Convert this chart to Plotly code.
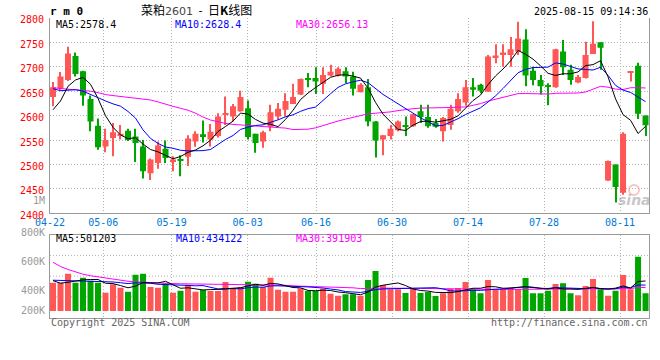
import plotly.graph_objects as go
import pandas as pd

# ---------------- data ----------------
dates = ["04-22","04-23","04-24","04-25","04-28","04-29","04-30",
         "05-06","05-07","05-08","05-09","05-12","05-13","05-14","05-15","05-16",
         "05-19","05-20","05-21","05-22","05-23","05-26","05-27","05-28","05-29","05-30",
         "06-03","06-04","06-05","06-06","06-09","06-10","06-11","06-12","06-13",
         "06-16","06-17","06-18","06-19","06-20","06-23","06-24","06-25","06-26","06-27",
         "06-30","07-01","07-02","07-03","07-04","07-07","07-08","07-09","07-10","07-11",
         "07-14","07-15","07-16","07-17","07-18","07-21","07-22","07-23","07-24","07-25",
         "07-28","07-29","07-30","07-31","08-01","08-04","08-05","08-06","08-07","08-08",
         "08-11","08-12","08-13","08-14","08-15"]

opens  = [2638,2655,2673,2722,2691,2634,2579,2537,2554,2560,
          2569,2557,2537,2482,2503,2532,2505,2511,2516,2547,
          2562,2551,2558,2602,2598,2609,2615,2563,2547,2577,
          2598,2612,2624,2643,2677,2677,2665,2682,2682,2691,
          2680,2648,2658,2588,2551,2558,2570,2581,2578,2609,
          2597,2585,2568,2581,2609,2627,2658,2663,2649,2719,
          2724,2724,2731,2756,2692,2673,2662,2658,2731,2694,
          2668,2677,2726,2750,2467,2500,2442,2688,2702,2600]
highs  = [2669,2689,2741,2729,2692,2641,2594,2573,2585,2581,
          2573,2573,2550,2512,2547,2549,2517,2519,2560,2568,
          2590,2583,2605,2639,2624,2651,2631,2563,2569,2622,
          2626,2646,2665,2676,2687,2699,2699,2704,2699,2699,
          2690,2666,2675,2589,2560,2581,2590,2598,2604,2622,
          2622,2593,2597,2622,2646,2673,2677,2665,2724,2746,
          2746,2761,2792,2777,2700,2683,2666,2737,2755,2704,
          2683,2751,2793,2750,2508,2500,2566,2689,2708,2600]
lows   = [2619,2651,2671,2680,2620,2568,2530,2525,2517,2551,
          2548,2505,2471,2468,2491,2503,2486,2476,2497,2536,
          2545,2537,2555,2581,2588,2608,2551,2524,2534,2568,
          2592,2598,2624,2642,2658,2644,2644,2680,2680,2666,
          2641,2648,2578,2514,2519,2551,2568,2558,2577,2585,
          2575,2575,2547,2571,2606,2620,2639,2646,2649,2707,
          2700,2700,2724,2660,2662,2643,2621,2657,2683,2663,
          2666,2676,2726,2694,2466,2422,2438,2670,2593,2558]
closes = [2658,2680,2727,2685,2641,2588,2535,2550,2566,2563,
          2550,2544,2486,2510,2539,2513,2510,2509,2553,2563,
          2556,2567,2598,2604,2619,2638,2556,2544,2566,2607,
          2614,2630,2638,2675,2674,2670,2683,2690,2696,2680,
          2655,2663,2588,2549,2560,2573,2588,2578,2603,2597,
          2578,2577,2595,2614,2634,2658,2653,2651,2721,2723,
          2729,2736,2758,2682,2673,2660,2660,2736,2699,2673,
          2679,2724,2747,2739,2507,2454,2563,2689,2604,2580]
volumes = [474,474,624,474,557,507,474,306,446,390,
           323,608,624,401,390,462,306,339,440,323,
           351,334,334,485,390,401,490,457,401,557,
           356,323,323,378,334,334,373,289,255,278,
           278,255,518,669,434,362,362,300,384,300,
           317,250,295,373,384,485,362,295,518,362,
           362,384,362,552,295,295,339,451,462,295,
           261,418,535,362,255,339,602,362,909,295]  # thousands of lots

# moving-average values visible before enough bars exist
ma5_head  = [2612,2630,2660,2673]
ma10_head = [2655,2651,2652,2653,2650,2643,2636,2630,2624]
ma30_head = [2657,2655,2654,2653,2652,2650,2647,2643,2641,2639,
             2638,2636,2634,2632,2628,2623,2619,2615,2611,2605,
             2597,2591,2587,2584,2582,2581,2580,2579,2578]
vma5_head  = [507,465,480,500]
vma10_head = [515,512,510,510,508,505,500,495,485]
vma30_head = [815,745,695,650,615,590,570,550,530,512,
              497,487,479,472,467,462,458,455,452,450,
              448,446,444,442,441,440,439,438,438]

tick_labels = ["04-22","05-06","05-19","06-03","06-16","06-30","07-14","07-28","08-11"]
price_ticks = [2400,2450,2500,2550,2600,2650,2700,2750,2800]

ma_texts = ["MA5:2578.4", "MA10:2628.4", "MA30:2656.13"]
vma_texts = ["MA5:501203", "MA10:434122", "MA30:391903"]
vol_labels = ["800K", "600K", "400K", "200K"]

# ---------------- derived ----------------
W, H = 660, 360
n = len(dates)
idx = list(range(n))
vol = [v * 1000 for v in volumes]


def ma(series, k, head):
    s = pd.Series(series, dtype=float).rolling(k).mean().tolist()
    for i, h in enumerate(head):
        s[i] = h
    return s


ma5, ma10, ma30 = ma(closes, 5, ma5_head), ma(closes, 10, ma10_head), ma(closes, 30, ma30_head)
vma5 = ma(vol, 5, [v * 1000 for v in vma5_head])
vma10 = ma(vol, 10, [v * 1000 for v in vma10_head])
vma30 = ma(vol, 30, [v * 1000 for v in vma30_head])

RED, GREEN = "#ff5656", "#00a500"
colors = [RED if c >= o else GREEN for o, c in zip(opens, closes)]
body_base = [min(o, c) for o, c in zip(opens, closes)]
body_h = [max(abs(c - o), 2) for o, c in zip(opens, closes)]
wick_h = [h - l for h, l in zip(highs, lows)]

# Sina's date grid runs on a 7.6 px pitch while bars sit on a 7.5 px pitch
tick_pos = [(dates.index(t) * 7.6 - 3) / 7.5 for t in tick_labels]

MONO = "DejaVu Sans Mono"
GRIDC = "#b4b4b4"
LINEC = "#9a9a9a"
DOT = "1px,2px"

def px(x):
    return x / W

def py(y):
    return 1 - y / H

fig = go.Figure()
# candles
fig.add_trace(go.Bar(x=idx, y=wick_h, base=lows, width=0.14, marker=dict(color=colors, line=dict(width=0)),
                     xaxis="x", yaxis="y", hoverinfo="skip"))
fig.add_trace(go.Bar(x=idx, y=body_h, base=body_base, width=0.8, marker=dict(color=colors, line=dict(width=0)),
                     xaxis="x", yaxis="y", hoverinfo="skip"))
for s, c in [(ma30, "#ff00ff"), (ma10, "#0000ff"), (ma5, "#000000")]:
    fig.add_trace(go.Scatter(x=idx, y=s, mode="lines", line=dict(color=c, width=1), xaxis="x", yaxis="y"))
# volume
fig.add_trace(go.Bar(x=idx, y=vol, width=0.8, marker=dict(color=colors, line=dict(width=0)),
                     xaxis="x2", yaxis="y2", hoverinfo="skip"))
for s, c in [(vma30, "#ff00ff"), (vma10, "#0000ff"), (vma5, "#000000")]:
    fig.add_trace(go.Scatter(x=idx, y=s, mode="lines", line=dict(color=c, width=1), xaxis="x2", yaxis="y2"))

xdom = [px(50), px(649.3)]
xr = [-0.4, 79.5]
fig.update_layout(
    width=W, height=H, margin=dict(l=0, r=0, t=0, b=0, pad=0, autoexpand=False),
    paper_bgcolor="white", plot_bgcolor="white",
    showlegend=False, barmode="overlay",
    xaxis=dict(domain=xdom, range=xr, anchor="y", tickvals=tick_pos, ticktext=tick_labels,
               tickfont=dict(family=MONO, size=10, color="#0078d7"), ticks="",
               ticklabelstandoff=0, automargin=False,
               showgrid=True, gridcolor=GRIDC, griddash=DOT, gridwidth=1,
               showline=True, linecolor=LINEC, linewidth=1, zeroline=False),
    yaxis=dict(domain=[py(213.3), py(17.9)], range=[2400, 2800], anchor="x",
               tickvals=price_ticks, ticktext=[str(p) for p in price_ticks],
               tickfont=dict(family=MONO, size=10, color="#ff0000"), ticks="",
               ticklabelstandoff=3, ticklabelshift=2, automargin=False,
               showgrid=True, gridcolor=GRIDC, griddash=DOT, gridwidth=1,
               showline=True, mirror=True, linecolor=LINEC, linewidth=1, zeroline=False),
    xaxis2=dict(domain=xdom, range=xr, anchor="y2", tickvals=tick_pos, showticklabels=False, ticks="",
                automargin=False,
                showgrid=True, gridcolor=GRIDC, griddash=DOT, gridwidth=1,
                showline=True, mirror=True, linecolor=LINEC, linewidth=1, zeroline=False),
    yaxis2=dict(domain=[py(317.7), py(234.7)], range=[-114000, 1278000], anchor="x2",
                showticklabels=False, ticks="", showgrid=False, automargin=False,
                showline=True, mirror=True, linecolor=LINEC, linewidth=1, zeroline=False),
)

shapes = []
for f in (0.25, 0.5, 0.75):
    shapes.append(dict(type="line", xref="x2 domain", yref="y2 domain", x0=0, x1=1, y0=f, y1=f,
                       line=dict(color=GRIDC, width=1, dash=DOT), layer="below"))
# sina watermark eye
shapes.append(dict(type="circle", xref="paper", yref="paper",
                   x0=px(629), x1=px(639), y0=py(195), y1=py(185),
                   line=dict(color="rgba(240,150,150,0.55)", width=2)))
fig.update_layout(shapes=shapes)

ann = []
def text(x, y, s, anchor="left", color="#000", size=10, family=MONO):
    ann.append(dict(x=px(x), y=py(y), xref="paper", yref="paper", text=s, showarrow=False,
                    xanchor=anchor, yanchor="middle", borderpad=0,
                    font=dict(family=family, size=size, color=color)))

text(49, 11.5, "<b>r m 0</b>", size=11)
text(140, 9.5, "菜粕<span style='font-family:DejaVu Sans;font-size:11px;color:#444'>2601</span>"
     "&nbsp;&nbsp;-&nbsp;&nbsp;日<b>K</b>线图",
     size=12, family="Noto Sans CJK SC")
text(648.5, 11.5, "2025-08-15 09:14:36", anchor="right")
for x, s, c in zip([54.5, 174, 295], ma_texts, ["#000000", "#0000ff", "#ff00ff"]):
    text(x, 24.5, s, color=c)
for x, s, c in zip([54.5, 174.5, 295], vma_texts, ["#000000", "#0000ff", "#ff00ff"]):
    text(x, 238.3, s, color=c)
text(46, 200.7, "1M", anchor="right", color="#999999")
for y, s in zip([232.5, 261, 290.7, 310.7], vol_labels):
    text(46, y, s, anchor="right", color="#999999")
text(50, 322.8, "Copyright 2025 SINA.COM", color="#666666")
text(648.5, 322.8, "http://finance.sina.com.cn", anchor="right", color="#666666")
text(634, 200, "<b><i>sina</i></b>", anchor="center", color="rgba(150,150,150,0.55)", size=14,
     family="DejaVu Sans")
fig.update_layout(annotations=ann)

fig.write_html("out.html", config={"displayModeBar": False},
               post_script="document.documentElement.style.margin='0';"
                           "document.body.style.margin='0';"
                           "document.body.style.overflow='hidden';")
